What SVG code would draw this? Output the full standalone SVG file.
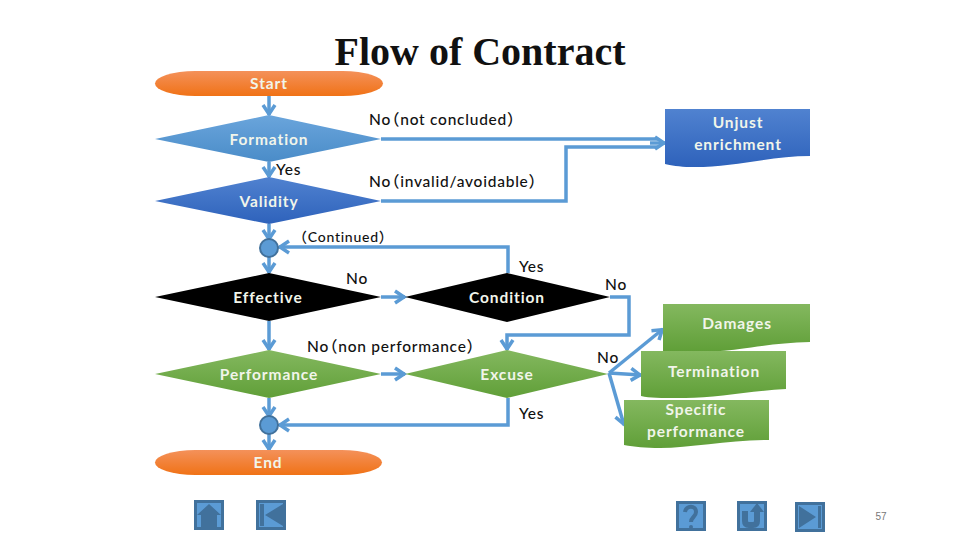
<svg xmlns="http://www.w3.org/2000/svg" width="960" height="540" viewBox="0 0 960 540">
<style>
.c{fill:none;stroke:#5b9bd5;stroke-width:3.5}
.a{fill:none;stroke:#5b9bd5;stroke-width:3.5;marker-end:url(#h)}
.l{font:500 15.5px Lato,"Noto Sans CJK SC",sans-serif;fill:#111;letter-spacing:.75px}
.w{font:bold 15.5px Lato,sans-serif;fill:#f1f5ea;text-anchor:middle;letter-spacing:.9px}
.ic{fill:#5b9bd5;stroke:#41719c;stroke-width:3}
.g{fill:#41719c}
</style>
<defs>
<marker id="h" markerUnits="userSpaceOnUse" markerWidth="16" markerHeight="18" refX="13" refY="8" orient="auto"><path d="M3 2L12 8L3 14" fill="none" stroke="#5b9bd5" stroke-width="3.5"/></marker>
<linearGradient id="o" x1="0" y1="0" x2="0" y2="1"><stop offset="0" stop-color="#f4915a"/><stop offset="1" stop-color="#f07216"/></linearGradient>
<linearGradient id="lb" x1="0" y1="0" x2="0" y2="1"><stop offset="0" stop-color="#6aa5dc"/><stop offset="1" stop-color="#4a8cc8"/></linearGradient>
<linearGradient id="db" x1="0" y1="0" x2="0" y2="1"><stop offset="0" stop-color="#5082d0"/><stop offset="1" stop-color="#2e62bb"/></linearGradient>
<linearGradient id="gr" x1="0" y1="0" x2="0" y2="1"><stop offset="0" stop-color="#84b85f"/><stop offset="1" stop-color="#609f38"/></linearGradient>
</defs>
<text x="480" y="65" font-family="Liberation Serif,serif" font-weight="bold" font-size="40" text-anchor="middle" fill="#111">Flow of Contract</text>
<g id="connectors">
<path class="a" d="M269 96V115"/>
<path class="a" d="M269 162V177"/>
<path class="a" d="M269 224V240"/>
<path class="a" d="M269 257V273"/>
<path class="a" d="M269 321V350"/>
<path class="a" d="M269 398V417"/>
<path class="a" d="M269 434V450"/>
<path class="c" d="M381 139H658"/>
<path class="c" d="M381 201H566V147H658"/>
<path class="a" d="M650 143H665"/>
<path class="a" d="M508 273V247H279"/>
<path class="a" d="M381 297H405"/>
<path class="a" d="M381 374H405"/>
<path class="a" d="M508 398V425H279"/>
<path class="a" d="M610 297H629V335H507V350"/>
<path class="a" d="M609 373L663 329"/>
<path class="a" d="M609 373L641 375"/>
<path class="a" d="M609 373L624 425"/>
</g>
<g id="start"><rect x="155" y="71" width="228" height="25" rx="40" ry="12.5" fill="url(#o)"/><text class="w" x="269" y="89">Start</text></g>
<g id="formation"><path d="M155 139L269 115L381 139L269 162Z" fill="url(#lb)"/><text class="w" x="269" y="145">Formation</text></g>
<g id="validity"><path d="M155 201L269 177L381 201L269 224Z" fill="url(#db)"/><text class="w" x="269" y="207">Validity</text></g>
<g id="merge1"><circle cx="269" cy="248" r="9" fill="#5b9bd5" stroke="#41719c" stroke-width="2"/></g>
<g id="effective"><path d="M155 297L269 273L381 297L269 321Z" fill="#000"/><text class="w" x="268" y="303">Effective</text></g>
<g id="condition"><path d="M405 297L507 273L610 297L507 322Z" fill="#000"/><text class="w" x="507" y="303">Condition</text></g>
<g id="performance"><path d="M155 374L269 350L381 374L269 398Z" fill="url(#gr)"/><text class="w" x="269" y="380">Performance</text></g>
<g id="excuse"><path d="M405 374L507 350L608 374L507 398Z" fill="url(#gr)"/><text class="w" x="507" y="380">Excuse</text></g>
<g id="merge2"><circle cx="269" cy="425" r="9" fill="#5b9bd5" stroke="#41719c" stroke-width="2"/></g>
<g id="end"><rect x="155" y="450" width="227" height="25" rx="40" ry="12.5" fill="url(#o)"/><text class="w" x="268" y="468">End</text></g>
<g id="unjust"><path d="M665 109H810V156C770 156 730 168 690 167C680 167 670 165 665 164Z" fill="url(#db)"/><text class="w" x="738" y="128">Unjust</text><text class="w" x="738" y="150">enrichment</text></g>
<g id="damages"><path d="M663 304H810V342C770 343 740 350 720 351H663Z" fill="url(#gr)"/><text class="w" x="737" y="329">Damages</text></g>
<g id="termination"><path d="M641 351H786V389C750 391 710 399 680 398C660 398 650 398 641 396Z" fill="url(#gr)"/><text class="w" x="714" y="377">Termination</text></g>
<g id="specific"><path d="M624 400H769V440C730 440 690 448 660 448C645 448 635 447 624 445Z" fill="url(#gr)"/><text class="w" x="696" y="415">Specific</text><text class="w" x="696" y="437">performance</text></g>
<g id="labels">
<text class="l" x="369" y="125" dx="0 0 -7">No（not concluded）</text>
<text class="l" x="276" y="175">Yes</text>
<text class="l" x="369" y="187" dx="0 0 -7">No（invalid/avoidable）</text>
<text class="l" x="293" y="242" style="font-size:14px">（Continued）</text>
<text class="l" x="346" y="284">No</text>
<text class="l" x="519" y="272">Yes</text>
<text class="l" x="605" y="290">No</text>
<text class="l" x="307" y="352" dx="0 0 -7">No（non performance）</text>
<text class="l" x="597" y="363">No</text>
<text class="l" x="519" y="419">Yes</text>
</g>
<g id="nav">
<g id="home"><rect class="ic" x="195.500" y="501.500" width="27" height="27"/><path class="g" d="M197 515L209 504L221 515H217V527H201V515Z"/></g>
<g id="first"><rect class="ic" x="257.500" y="501.500" width="27" height="27"/><path class="g" d="M260 504h4v22h-4ZM265 515L283 504V526Z"/></g>
<g id="help"><rect class="ic" x="677.500" y="502.500" width="27" height="27"/><path d="M685 512C686 505 696 505 696 512C696 517 691 517 691 522" fill="none" stroke="#41719c" stroke-width="4"/><circle class="g" cx="691" cy="527" r="2"/></g>
<g id="return"><rect class="ic" x="738.500" y="502.500" width="27" height="27"/><path d="M745 511V521Q745 525 749 525H753Q757 525 757 521V510" fill="none" stroke="#41719c" stroke-width="6"/><path class="g" d="M750 512L757 503L764 512Z"/></g>
<g id="last"><rect class="ic" x="796.500" y="503.500" width="27" height="27"/><path class="g" d="M799 506L816 517L799 528ZM818 506h3v22h-3Z"/></g>
</g>
<text x="881" y="520" font-family="Liberation Sans,sans-serif" font-size="10" fill="#777" text-anchor="middle">57</text>
</svg>
